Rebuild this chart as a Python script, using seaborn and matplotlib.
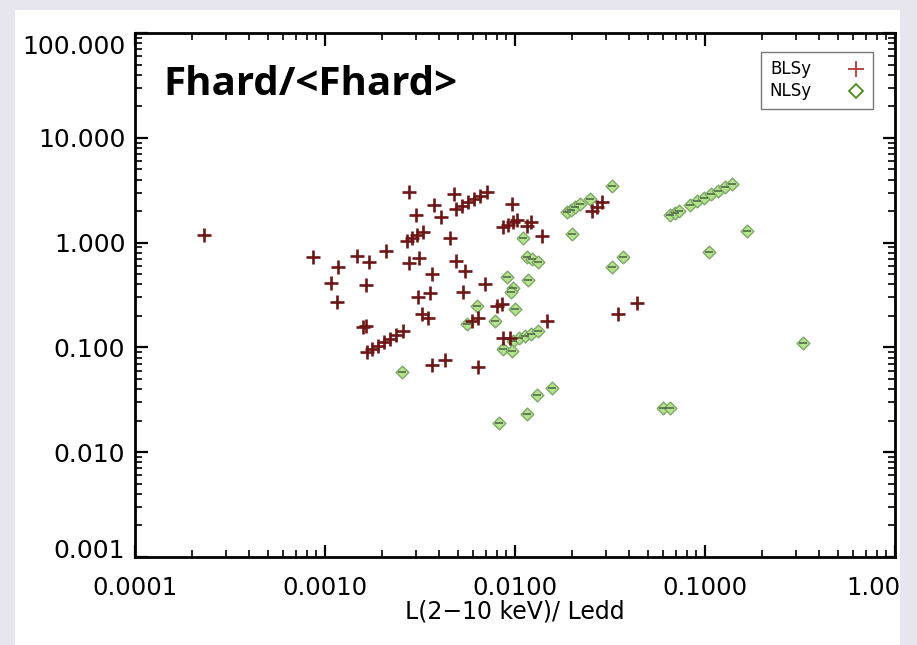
import numpy as np
import pandas as pd
import matplotlib
matplotlib.use("Agg")
import matplotlib.pyplot as plt
import matplotlib.ticker as mticker
import matplotlib.transforms as mtransforms
from matplotlib.patches import Rectangle
import seaborn as sns

# Broad-line Seyferts: L(2-10 keV)/Ledd and Fhard/<Fhard>
blsy_x = [2.3e-4, 8.6e-4, 1.17e-3, 1.08e-3, 1.16e-3, 1.47e-3, 1.71e-3, 2.09e-3, 1.64e-3,
          2.77e-3, 3.01e-3, 2.70e-3, 2.87e-3, 3.05e-3, 3.28e-3, 2.77e-3, 3.12e-3,
          3.08e-3, 3.24e-3, 3.48e-3, 1.58e-3, 1.64e-3,
          1.66e-3, 1.77e-3, 1.90e-3, 2.05e-3, 2.20e-3, 2.36e-3, 2.57e-3,
          3.66e-3, 4.28e-3, 3.75e-3, 4.08e-3, 4.77e-3,
          4.89e-3, 5.26e-3, 5.66e-3, 6.09e-3, 6.54e-3, 7.12e-3,
          4.55e-3, 3.66e-3, 4.89e-3, 5.46e-3, 6.95e-3, 5.32e-3, 3.57e-3,
          8.04e-3, 8.55e-3, 5.94e-3, 6.39e-3, 6.39e-3,
          9.64e-3, 8.65e-3, 9.19e-3, 9.75e-3, 1.03e-2, 1.16e-2, 1.21e-2,
          1.39e-2, 1.47e-2, 8.65e-3, 9.42e-3,
          2.54e-2, 2.70e-2, 2.87e-2, 4.39e-2, 3.48e-2]
blsy_y = [1.19, 0.73, 0.59, 0.41, 0.27, 0.75, 0.66, 0.84, 0.39,
          3.07, 1.85, 1.04, 1.11, 1.19, 1.27, 0.64, 0.72,
          0.30, 0.21, 0.19, 0.156, 0.16,
          0.090, 0.096, 0.103, 0.112, 0.120, 0.131, 0.143,
          0.068, 0.075, 2.30, 1.77, 2.93,
          2.11, 2.25, 2.46, 2.63, 2.81, 3.07,
          1.11, 0.50, 0.67, 0.53, 0.40, 0.34, 0.33,
          0.25, 0.26, 0.18, 0.19, 0.065,
          2.35, 1.42, 1.48, 1.58, 1.65, 1.45, 1.58,
          1.16, 0.18, 0.122, 0.122,
          2.02, 2.20, 2.46, 0.265, 0.208]

# Narrow-line Seyferts
nlsy_x = [2.54e-3, 6.31e-3, 5.59e-3, 7.85e-3, 1.10e-2, 1.16e-2, 1.23e-2, 1.32e-2,
          9.08e-3, 9.75e-3, 9.52e-3, 1.17e-2, 1.0e-2,
          9.75e-3, 1.05e-2, 1.13e-2, 1.21e-2, 1.32e-2, 8.65e-3, 9.64e-3,
          1.57e-2, 1.31e-2, 1.16e-2, 8.24e-3,
          1.88e-2, 1.97e-2, 2.07e-2, 2.20e-2, 2.0e-2, 2.48e-2, 3.24e-2, 3.24e-2, 3.70e-2,
          6.54e-2, 6.95e-2, 7.30e-2,
          8.34e-2, 9.08e-2, 9.88e-2, 0.1076, 0.117, 0.1274, 0.1387,
          0.166, 0.105, 0.328, 6.01e-2, 6.54e-2]
nlsy_y = [0.058, 0.248, 0.167, 0.178, 1.11, 0.73, 0.70, 0.655,
          0.47, 0.369, 0.338, 0.44, 0.232,
          0.115, 0.122, 0.128, 0.134, 0.143, 0.096, 0.092,
          0.0407, 0.0349, 0.0229, 0.0192,
          1.97, 2.06, 2.20, 2.35, 1.21, 2.63, 3.50, 0.586, 0.731,
          1.85, 1.93, 2.02,
          2.30, 2.51, 2.69, 2.93, 3.13, 3.42, 3.66,
          1.30, 0.817, 0.110, 0.0267, 0.0262]

x_ticks = [1e-4, 1e-3, 1e-2, 1e-1, 1.0]
x_ticklabels = ["0.0001", "0.0010", "0.0100", "0.1000", "1.00"]
y_ticks = [1e-3, 1e-2, 1e-1, 1.0, 10.0, 100.0]
y_ticklabels = ["0.001", "0.010", "0.100", "1.000", "10.000", "100.000"]

blsy = pd.DataFrame({"ledd": blsy_x, "fhard": blsy_y})
nlsy = pd.DataFrame({"ledd": nlsy_x, "fhard": nlsy_y})

sns.set_style("ticks")
plt.rcParams["font.family"] = ["DejaVu Sans"]
plt.rcParams["text.color"] = "black"
plt.rcParams["axes.labelcolor"] = "black"
plt.rcParams["xtick.color"] = "black"
plt.rcParams["ytick.color"] = "black"

W, H = 917, 645
fig = plt.figure(figsize=(W / 100, H / 100), dpi=100)
fig.patch.set_facecolor("#e7e6ee")
fig.patches.append(Rectangle((15 / W, 0), (900 - 15) / W, (645 - 10) / H,
                             transform=fig.transFigure, facecolor="white",
                             edgecolor="none", zorder=-10))

ax = fig.add_axes([135 / W, 1 - 557 / H, (895 - 135) / W, (557 - 33) / H])
ax.set_facecolor("white")

red = "#6e1616"
green_face = "#b2e48a"
green_edge = "#7fa86a"

sns.scatterplot(data=blsy, x="ledd", y="fhard", ax=ax, marker="+", s=105,
                color=red, linewidth=1.9, zorder=3, legend=False)
sns.scatterplot(data=nlsy, x="ledd", y="fhard", ax=ax, marker="D", s=42,
                facecolor=green_face, edgecolor=green_edge, linewidth=1.0,
                zorder=2, legend=False)
sns.scatterplot(data=nlsy, x="ledd", y="fhard", ax=ax, marker="_", s=28,
                color="#4f5f48", linewidth=1.1, zorder=2.5, legend=False)

ax.set_xscale("log")
ax.set_yscale("log")
ax.set_xlim(1e-4, 1.0)
ax.set_ylim(1e-3, 100.0)

ax.set_xticks(x_ticks)
ax.set_xticklabels(x_ticklabels)
ax.set_yticks(y_ticks)
ax.set_yticklabels(y_ticklabels)
ax.xaxis.set_minor_locator(mticker.LogLocator(base=10, subs=np.arange(2, 10)))
ax.yaxis.set_minor_locator(mticker.LogLocator(base=10, subs=np.arange(2, 10)))
ax.xaxis.set_minor_formatter(mticker.NullFormatter())
ax.yaxis.set_minor_formatter(mticker.NullFormatter())

ax.tick_params(which="both", direction="in", top=True, right=True, color="black")
ax.tick_params(which="major", length=9, width=1.6, labelsize=17.5, labelcolor="black")
ax.tick_params(axis="y", which="major", labelsize=18)
ax.tick_params(which="minor", length=5, width=1.2)
ax.tick_params(axis="x", which="major", pad=14)
ax.tick_params(axis="y", which="major", pad=7)
for sp in ax.spines.values():
    sp.set_linewidth(2.0)
    sp.set_color("black")


def shift(label, dx_px, dy_px):
    label.set_transform(label.get_transform() +
                        mtransforms.ScaledTranslation(dx_px / 100, dy_px / 100,
                                                      fig.dpi_scale_trans))


# the last x tick label sits flush against the panel's right edge
last = ax.get_xticklabels()[-1]
last.set_horizontalalignment("right")
shift(last, 5, 0)

# end labels of the y axis are kept inside the frame height
ylabels = ax.get_yticklabels()
shift(ylabels[0], 0, 8)
shift(ylabels[-1], 0, -11)

ax.set_xlabel("L(2\u221210 keV)/ Ledd", fontsize=17, labelpad=-1, color="black")
ax.set_ylabel("")

fig.text(163 / W, 1 - 95 / H, "Fhard/<Fhard>", fontsize=29, fontweight="bold",
         family=["Open Sans", "DejaVu Sans"], ha="left", va="baseline", color="black")

h1 = plt.Line2D([], [], linestyle="none", marker="+", markersize=11,
                markeredgewidth=1.3, color="#b03a3a")
h2 = plt.Line2D([], [], linestyle="none", marker="D", markersize=7,
                markerfacecolor="none", markeredgecolor="#4e8a1e", markeredgewidth=1.3)
leg = ax.legend([h1, h2], ["BLSy", "NLSy"], loc="upper right",
                bbox_to_anchor=((873 - 135) / (895 - 135), (557 - 52) / (557 - 33)),
                markerfirst=False, fontsize=12, frameon=True, fancybox=False,
                handlelength=1.0, handletextpad=2.2, borderpad=0.5,
                labelspacing=0.25, borderaxespad=0)
leg.get_frame().set_edgecolor("#555555")
leg.get_frame().set_linewidth(1.0)
for t in leg.get_texts():
    t.set_color("black")

fig.savefig("out.png", dpi=100, facecolor=fig.get_facecolor())
